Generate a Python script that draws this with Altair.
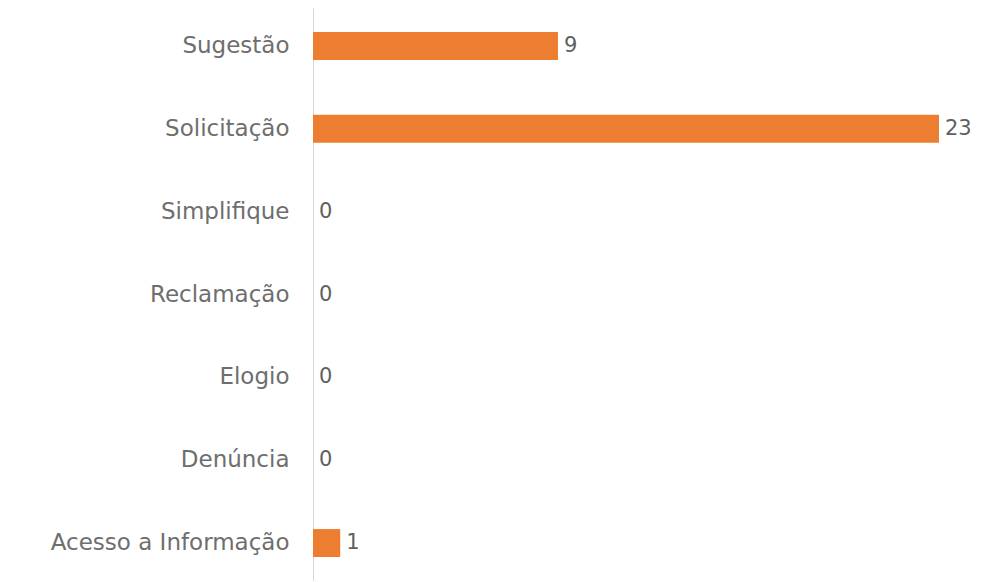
import altair as alt
import pandas as pd

categories = ["Sugestão", "Solicitação", "Simplifique", "Reclamação", "Elogio", "Denúncia", "Acesso a Informação"]
values = [9, 23, 0, 0, 0, 0, 1]

df = pd.DataFrame({"categoria": categories, "valor": values})

y_enc = alt.Y(
    "categoria:N",
    sort=categories,
    title=None,
    scale=alt.Scale(paddingInner=0.663, paddingOuter=0.29),
    axis=alt.Axis(
        ticks=False,
        labelPadding=24,
        labelLimit=0,
        labelFont="DejaVu Sans",
        labelFontSize=23,
        labelColor="#6e6e6e",
        domainColor="#d9d9d9",
        domainWidth=1,
        grid=False,
    ),
)
x_enc = alt.X("valor:Q", title=None, scale=alt.Scale(domain=[0, 23], nice=False), axis=None)

bars = alt.Chart(df).mark_bar(color="#ED7D31").encode(x=x_enc, y=y_enc)
labels = alt.Chart(df).mark_text(
    align="left", baseline="middle", dx=6, font="DejaVu Sans", fontSize=21, color="#5f5f5f"
).encode(x=x_enc, y=y_enc, text="valor:Q")

chart = (
    alt.layer(bars, labels)
    .properties(
        width=626,
        height=573,
        background="white",
        autosize=alt.AutoSizeParams(type="none"),
        padding={"left": 305, "top": 0, "right": 49, "bottom": 0},
    )
    .configure_view(strokeWidth=0)
)

chart.save("out.html", embed_options={"renderer": "svg", "actions": False})
